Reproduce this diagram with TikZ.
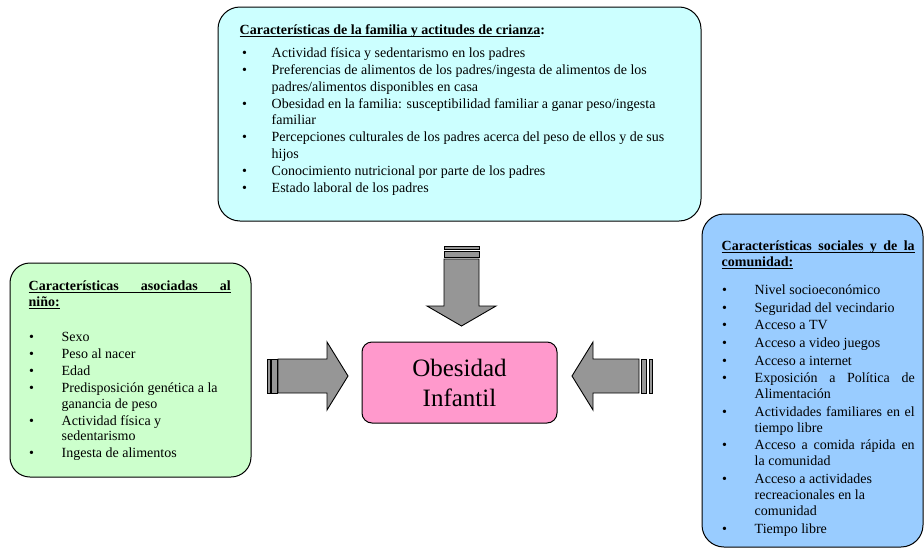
\documentclass[tikz,border=0pt]{standalone}
\usepackage{fontspec}
\setmainfont{Liberation Serif}
\usepackage{tikz}

\definecolor{celeste}{HTML}{CCFFFF}
\definecolor{verdeclaro}{HTML}{CCFFCC}
\definecolor{azulclaro}{HTML}{99CCFF}
\definecolor{rosa}{HTML}{FF99CC}
\definecolor{gris}{HTML}{969696}
\newlength{\sangria}
\newlength{\vineta}
\newcommand{\subrayado}[1]{\setbox0\hbox{#1}\rlap{\rule[-2.5pt]{\wd0}{1pt}}\box0}
\newcommand{\punto}[1]{\par\hangindent=\sangria\hangafter=1\noindent
   \makebox[\sangria][l]{\hspace{\vineta}\textbullet}#1}

\begin{document}
\begin{tikzpicture}[x=1pt,y=-1pt,
   caja/.style={draw,line width=1pt,rounded corners=22pt,inner sep=0pt},
   texto/.style={inner sep=0pt,anchor=base west},
   flecha/.style={draw,line width=0.9pt,fill=gris}]
\useasboundingbox (0,0) rectangle (924,549);
\node[caja,fill=celeste,minimum width=483pt,minimum height=214pt] (familia) at (459.5,114) {};
\node[caja,fill=verdeclaro,rounded corners=20pt,minimum width=241pt,minimum height=214pt] (nino) at (130.5,370) {};
\node[caja,fill=azulclaro,minimum width=221pt,minimum height=333pt] (comunidad) at (812.5,380.5) {};
\node[caja,fill=rosa,rounded corners=10pt,minimum width=195pt,minimum height=81pt,
   font=\fontsize{25}{30}\selectfont,align=center] (obesidad) at (459.5,382.5) {Obesidad\\Infantil};
\node[texto] (familiatexto) at ([xshift=22pt,yshift=-27.8pt]familia.north west) {\parbox[t]{460pt}{\fontsize{14}{16.8}\selectfont
   \setlength{\sangria}{32pt}\setlength{\vineta}{2.5pt}
   \textbf{\subrayado{Características de la familia y actitudes de crianza}:}\par\vspace{6.5pt}
   \punto{Actividad física y sedentarismo en los padres}
   \punto{Preferencias de alimentos de los padres/ingesta de alimentos de los\newline padres/alimentos disponibles en casa}
   \punto{Obesidad en la familia: susceptibilidad familiar a ganar peso/ingesta\newline familiar}
   \punto{Percepciones culturales de los padres acerca del peso de ellos y de sus\newline hijos}
   \punto{Conocimiento nutricional por parte de los padres}
   \punto{Estado laboral de los padres}\par}};
\node[texto] (ninotexto) at ([xshift=19pt,yshift=-27.5pt]nino.north west) {\parbox[t]{202pt}{\fontsize{14}{16.5}\selectfont
   \setlength{\sangria}{33pt}\setlength{\vineta}{0.5pt}
   \textbf{\subrayado{\makebox[\linewidth][s]{Características asociadas al}}\\\subrayado{niño:}}\par\vspace{18pt}
   \fontsize{14}{15.5}\selectfont\setlength{\parskip}{1.5pt}
   \punto{Sexo}
   \punto{Peso al nacer}
   \punto{Edad}
   \punto{Predisposición genética a la\newline ganancia de peso}
   \punto{Actividad física y\newline sedentarismo}
   \punto{Ingesta de alimentos}\par}};
\node[texto] (comunidadtexto) at ([xshift=20pt,yshift=-36.5pt]comunidad.north west) {\parbox[t]{193pt}{\fontsize{14}{16}\selectfont
   \setlength{\sangria}{33pt}\setlength{\vineta}{0.5pt}
   \textbf{\subrayado{\makebox[\linewidth][s]{Características sociales y de la}}\\\subrayado{comunidad:}}\par\vspace{11pt}
   \setlength{\parskip}{1.6pt}
   \punto{Nivel socioeconómico}
   \punto{Seguridad del vecindario}
   \punto{Acceso a TV}
   \punto{Acceso a video juegos}
   \punto{Acceso a internet}
   \punto{Exposición a Política de\linebreak Alimentación}
   \punto{Actividades familiares en el\linebreak tiempo libre}
   \punto{Acceso a comida rápida en\linebreak la comunidad}
   \punto{Acceso a actividades\newline recreacionales en la\newline comunidad}
   \punto{Tiempo libre}\par}};
\draw[flecha] (444,259) -- (479,259) -- (479,306) -- (496,306) -- (461.5,326) -- (427,306) -- (444,306) -- cycle;
\draw[flecha] (444,246) rectangle (479,249);
\draw[flecha] (444,251) rectangle (479,257);
\draw[flecha] (278,359) -- (327,359) -- (327,342) -- (348,376) -- (327,410) -- (327,393) -- (278,393) -- cycle;
\draw[flecha] (267,359) rectangle (270,393);
\draw[flecha] (271.5,359) rectangle (277,393);
\draw[flecha] (572,376) -- (593,342) -- (593,359) -- (639,359) -- (639,393) -- (593,393) -- (593,410) -- cycle;
\draw[flecha] (641.5,359) rectangle (646.5,393);
\draw[flecha] (649,359) rectangle (652.5,393);
\end{tikzpicture}
\end{document}
